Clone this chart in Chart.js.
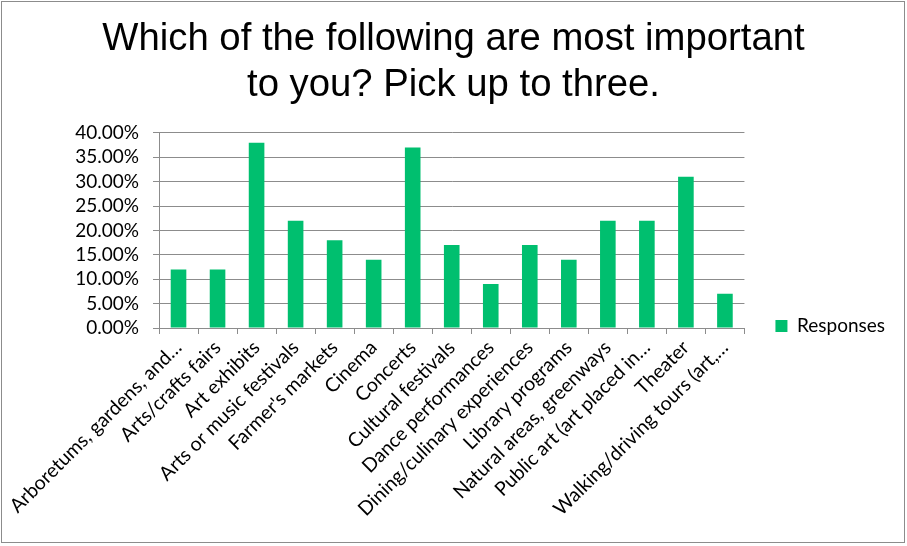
<!DOCTYPE html>
<html>
<head>
<meta charset="utf-8">
<script src="https://cdn.jsdelivr.net/npm/chart.js@4/dist/chart.umd.min.js"></script>
<style>
html,body{margin:0;padding:0;background:#fff;}
#wrap{width:907px;height:546px;position:relative;}
</style>
</head>
<body>
<div id="wrap"><canvas id="c" width="907" height="546"></canvas></div>
<script>
const categories = [
  "Arboretums, gardens, and…",
  "Arts/crafts fairs",
  "Art exhibits",
  "Arts or music festivals",
  "Farmer's markets",
  "Cinema",
  "Concerts",
  "Cultural festivals",
  "Dance performances",
  "Dining/culinary experiences",
  "Library programs",
  "Natural areas, greenways",
  "Public art (art placed in…",
  "Theater",
  "Walking/driving tours (art,…"
];
const responses = [12, 12, 38, 22, 18, 14, 37, 17, 9, 17, 14, 22, 22, 31, 7];
const seriesName = "Responses";
const titleLines = ["Which of the following are most important", "to you? Pick up to three."];
const yTicks = [0, 5, 10, 15, 20, 25, 30, 35, 40];

const axisFont = {family: "Lato", size: 19};
const xFont = {family: "Lato", size: 19.5};

const borderPlugin = {
  id: 'frame',
  beforeDraw(chart) {
    const ctx = chart.ctx;
    ctx.save();
    ctx.fillStyle = '#fff';
    ctx.fillRect(0, 0, chart.width, chart.height);
    ctx.strokeStyle = '#8c8c8c';
    ctx.lineWidth = 1;
    ctx.strokeRect(1.5, 1.5, chart.width - 4, chart.height - 5);
    ctx.restore();
  }
};

new Chart(document.getElementById('c'), {
  type: 'bar',
  data: {
    labels: categories,
    datasets: [{
      label: seriesName,
      data: responses,
      backgroundColor: '#00BF6F',
      borderWidth: 0,
      categoryPercentage: 1.0,
      barPercentage: 0.4
    }]
  },
  plugins: [borderPlugin],
  options: {
    responsive: false,
    animation: false,
    layout: {padding: {left: 12, right: 12, top: 0, bottom: 0}},
    plugins: {
      title: {
        display: true,
        text: titleLines,
        color: '#000',
        font: {family: "Liberation Sans", size: 38.3, weight: 'normal', lineHeight: 1.2},
        padding: {top: 16, bottom: 25}
      },
      legend: {
        display: true,
        position: 'right',
        align: 'center',
        title: {display: true, text: ' ', font: {size: 10}, padding: {top: 0, bottom: 94}},
        labels: {
          boxWidth: 12,
          boxHeight: 12,
          padding: 31,
          color: '#000',
          font: axisFont
        }
      },
      tooltip: {enabled: false}
    },
    scales: {
      x: {
        grid: {display: true, drawOnChartArea: false, drawTicks: true, tickLength: 6, color: '#8c8c8c', offset: true},
        border: {display: true, color: '#8c8c8c', width: 1},
        ticks: {
          autoSkip: false, minRotation: 45, maxRotation: 45,
          color: '#000', font: xFont, padding: 2
        },
        afterFit(scale) { scale.height = 546 - 328; }
      },
      y: {
        min: 0, max: 40,
        afterBuildTicks(scale) { scale.ticks = yTicks.map(v => ({value: v})); },
        grid: {color: '#8c8c8c', tickLength: 6, lineWidth: 1},
        border: {display: true, color: '#8c8c8c', width: 1},
        ticks: {
          autoSkip: false,
          color: '#000', font: axisFont, padding: 14,
          callback: (v) => v.toFixed(2) + '%'
        },
        afterFit(scale) { scale.width = 147; }
      }
    }
  }
});
</script>
</body>
</html>
